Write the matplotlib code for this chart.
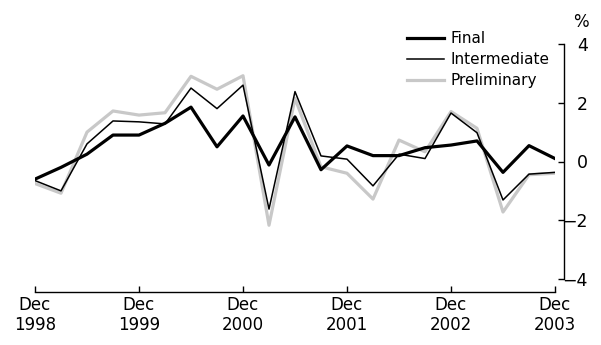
import matplotlib.pyplot as plt

# Quarterly, Dec 1998 to Dec 2003
quarters = list(range(21))
tick_pos = [0, 4, 8, 12, 16, 20]
tick_labels = ['Dec\n1998', 'Dec\n1999', 'Dec\n2000', 'Dec\n2001', 'Dec\n2002', 'Dec\n2003']

final = [-0.6, -0.2, 0.25, 0.9, 0.9, 1.3, 1.85, 0.5, 1.55, -0.12, 1.52, -0.28,
         0.53, 0.2, 0.2, 0.47, 0.56, 0.7, -0.37, 0.54, 0.1]
intermediate = [-0.65, -1.0, 0.6, 1.38, 1.35, 1.28, 2.5, 1.8, 2.6, -1.62, 2.38, 0.19,
                0.08, -0.83, 0.25, 0.1, 1.65, 0.98, -1.31, -0.43, -0.37]
preliminary = [-0.75, -1.08, 1.0, 1.72, 1.58, 1.66, 2.9, 2.46, 2.92, -2.17, 2.15, -0.18,
               -0.4, -1.28, 0.73, 0.33, 1.7, 1.13, -1.72, -0.45, -0.4]

plt.rcParams['font.family'] = ['DejaVu Sans']
plt.rcParams['font.size'] = 11

fig = plt.figure(figsize=(6.01, 3.45), dpi=100)
ax = fig.add_axes([35 / 601, 1 - 279 / 345, 520 / 601, 235 / 345])

ax.plot(quarters, preliminary, color='#c8c8c8', lw=2.3, label='Preliminary', zorder=2)
ax.plot(quarters, intermediate, color='black', lw=1.1, label='Intermediate', zorder=3)
ax.plot(quarters, final, color='black', lw=2.3, label='Final', zorder=4)

ax.set_xlim(0, 20)
ax.set_ylim(-4, 4)

for s in ['top', 'left']:
    ax.spines[s].set_visible(False)
ax.spines['bottom'].set_position(('outward', 9.5))
ax.spines['right'].set_position(('outward', 6.5))
ax.spines['bottom'].set_linewidth(1.0)
ax.spines['right'].set_linewidth(1.0)

ax.set_xticks(tick_pos)
ax.set_xticklabels(tick_labels, linespacing=1.1)
ax.tick_params(axis='x', direction='in', length=4, width=1, pad=3, labelsize=12)

ax.yaxis.tick_right()
ax.set_yticks([-4, -2, 0, 2, 4])
ax.set_yticklabels(['\u22124', '\u22122', '0', '2', '4'], ha='right')
ax.tick_params(axis='y', direction='in', length=4, width=1, pad=17, labelsize=12.5)

ax.text(1.05, 1.055, '%', transform=ax.transAxes, ha='center', va='bottom', fontsize=12)

handles, labels = ax.get_legend_handles_labels()
order = [2, 1, 0]
ax.legend([handles[i] for i in order], [labels[i] for i in order],
          loc='upper left', bbox_to_anchor=(395 / 601, 1 - 19 / 345),
          bbox_transform=fig.transFigure, frameon=False, fontsize=11,
          handlelength=2.4, handletextpad=0.45, labelspacing=0.4, borderpad=0.3)

plt.savefig('out.png', dpi=100)
plt.close()
